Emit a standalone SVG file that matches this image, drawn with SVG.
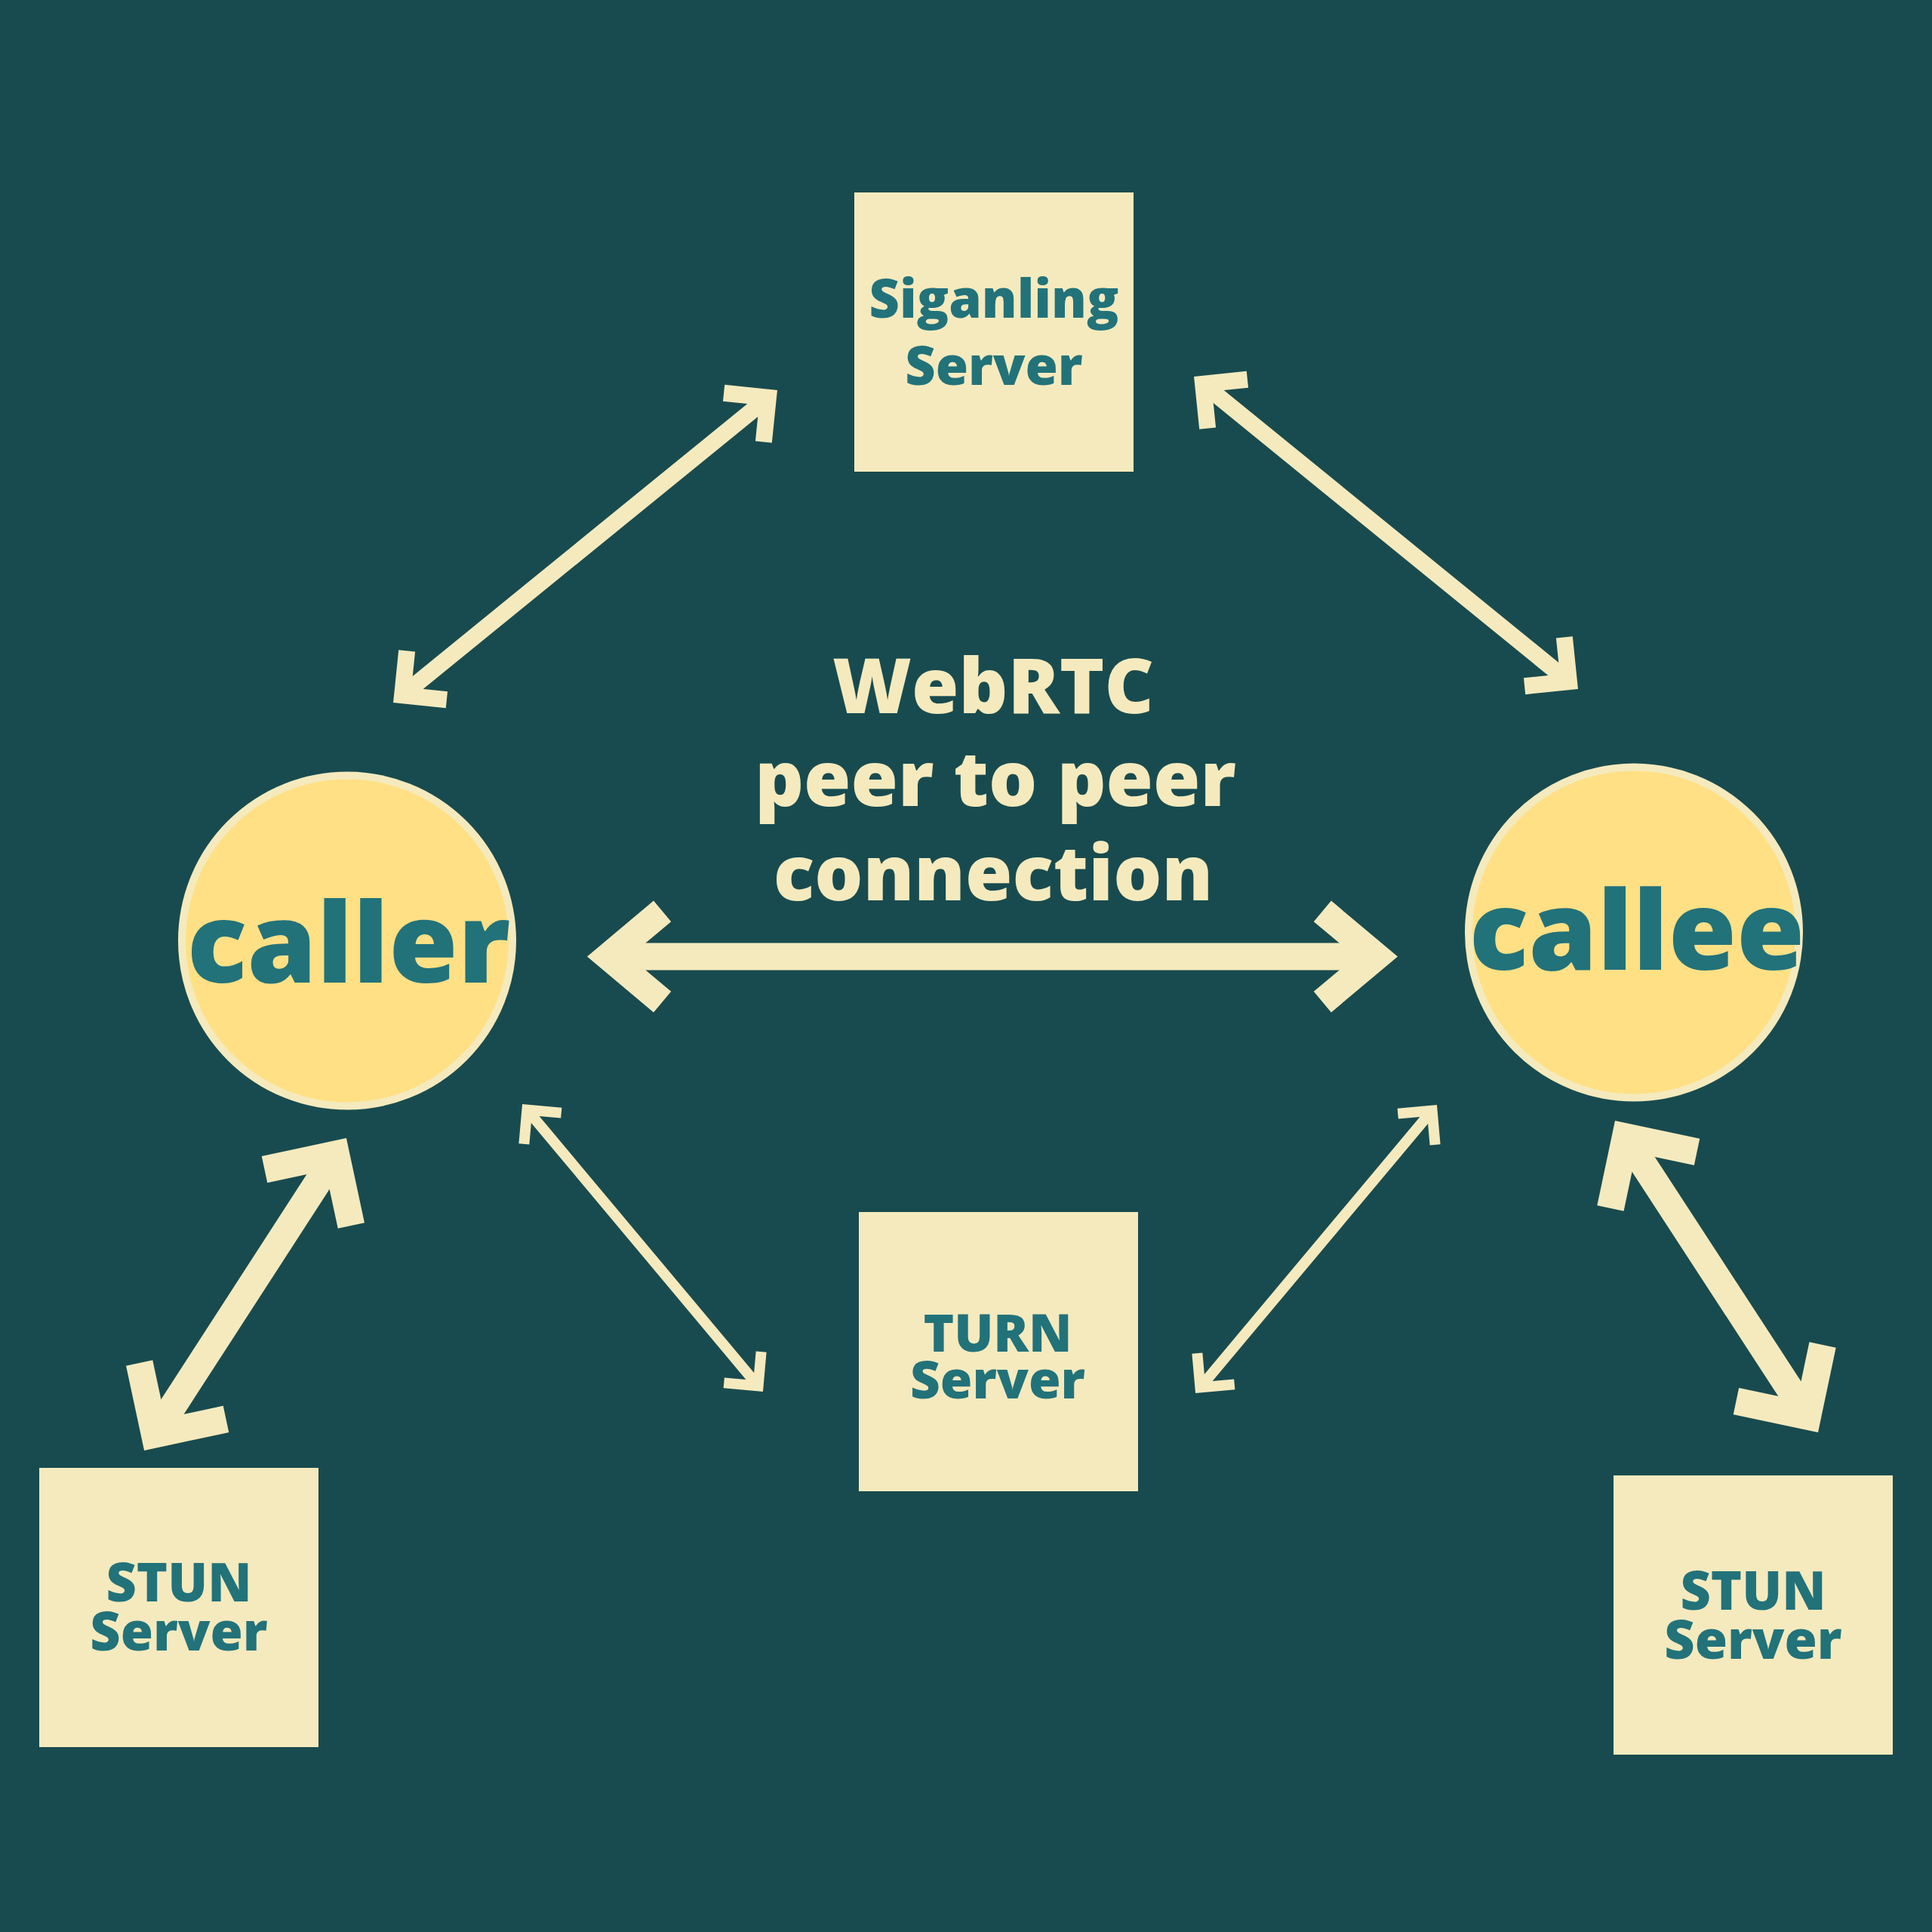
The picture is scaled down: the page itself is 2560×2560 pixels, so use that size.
<svg xmlns="http://www.w3.org/2000/svg" width="2560" height="2560" viewBox="0 0 2560 2560">
  <style>
    .bg { fill: #184B4F; }
    .box { fill: #F5EABD; }
    .peer { fill: #FFE085; stroke: #F5EABD; stroke-width: 10; }
    .lbl { font-family: "Open Sans", "Noto Sans", "Liberation Sans", sans-serif; font-weight: 800; fill: #22727A; text-anchor: middle; }
    .big { font-family: "Open Sans", "Noto Sans", "Liberation Sans", sans-serif; font-weight: 800; fill: #F5EABD; text-anchor: middle; }
    .conn { fill: none; stroke: #F5EABD; stroke-linecap: butt; }
  </style>
  <defs>
    <marker id="head45" markerUnits="strokeWidth" orient="auto-start-reverse" refX="0" refY="0" markerWidth="6" markerHeight="6" overflow="visible">
      <path d="M-1.9,-1.9 L0,0 L-1.9,1.9" fill="none" stroke="#F5EABD" stroke-width="1" stroke-linejoin="miter"/>
    </marker>
    <marker id="head45t" markerUnits="strokeWidth" orient="auto-start-reverse" refX="0" refY="0" markerWidth="6" markerHeight="6" overflow="visible">
      <path d="M-2.3,-2.3 L0,0 L-2.3,2.3" fill="none" stroke="#F5EABD" stroke-width="1" stroke-linejoin="miter"/>
    </marker>
    <marker id="head40" markerUnits="strokeWidth" orient="auto-start-reverse" refX="0" refY="0" markerWidth="6" markerHeight="6" overflow="visible">
      <path d="M-1.99,-1.67 L0,0 L-1.99,1.67" fill="none" stroke="#F5EABD" stroke-width="1" stroke-linejoin="miter"/>
    </marker>
  </defs>
  <rect class="bg" x="0" y="0" width="2560" height="2560"/>

  <g id="connectors">
    <line class="conn" x1="533.1" y1="921.2" x2="1017.9" y2="526.8" stroke-width="22" marker-start="url(#head45)" marker-end="url(#head45)"/>
    <line class="conn" x1="1594.1" y1="508.8" x2="2078.9" y2="903.2" stroke-width="22" marker-start="url(#head45)" marker-end="url(#head45)"/>
    <line class="conn" x1="204.9" y1="1900.6" x2="445.1" y2="1529.4" stroke-width="36" marker-start="url(#head45)" marker-end="url(#head45)"/>
    <line class="conn" x1="2153.9" y1="1506.4" x2="2395.1" y2="1876.6" stroke-width="36" marker-start="url(#head45)" marker-end="url(#head45)"/>
    <line class="conn" x1="698.4" y1="1470.6" x2="1004.6" y2="1836.4" stroke-width="14" marker-start="url(#head45t)" marker-end="url(#head45t)"/>
    <line class="conn" x1="1590.4" y1="1838.4" x2="1897.6" y2="1471.6" stroke-width="14" marker-start="url(#head45t)" marker-end="url(#head45t)"/>
    <line class="conn" x1="806" y1="1267.5" x2="1824" y2="1267.5" stroke-width="36" marker-start="url(#head40)" marker-end="url(#head40)"/>
  </g>

  <g id="signaling">
    <rect class="box" x="1132" y="255" width="370" height="370"/>
    <text class="lbl" x="1317" y="421" font-size="70">Siganling<tspan x="1317" dy="89">Server</tspan></text>
  </g>

  <g id="turn">
    <rect class="box" x="1138" y="1606" width="370" height="370"/>
    <text class="lbl" x="1322" y="1791" font-size="69">TURN<tspan x="1322" dy="62">Server</tspan></text>
  </g>

  <g id="stun-left">
    <rect class="box" x="52" y="1945" width="370" height="370"/>
    <text class="lbl" x="237" y="2122" font-size="70">STUN<tspan x="237" dy="65">Server</tspan></text>
  </g>

  <g id="stun-right">
    <rect class="box" x="2138" y="1955" width="370" height="370"/>
    <text class="lbl" x="2323" y="2133" font-size="70">STUN<tspan x="2323" dy="65">Server</tspan></text>
  </g>

  <g id="caller">
    <circle class="peer" cx="460" cy="1246.5" r="219"/>
    <text class="lbl" x="462" y="1302" font-size="148">caller</text>
  </g>

  <g id="callee">
    <circle class="peer" cx="2165" cy="1235.5" r="219"/>
    <text class="lbl" x="2169" y="1285" font-size="146">callee</text>
  </g>

  <g id="title">
    <text class="big" x="1316" y="945" font-size="101">WebRTC<tspan x="1319" dy="123">peer to peer</tspan><tspan x="1316" dy="125">connection</tspan></text>
  </g>
</svg>
